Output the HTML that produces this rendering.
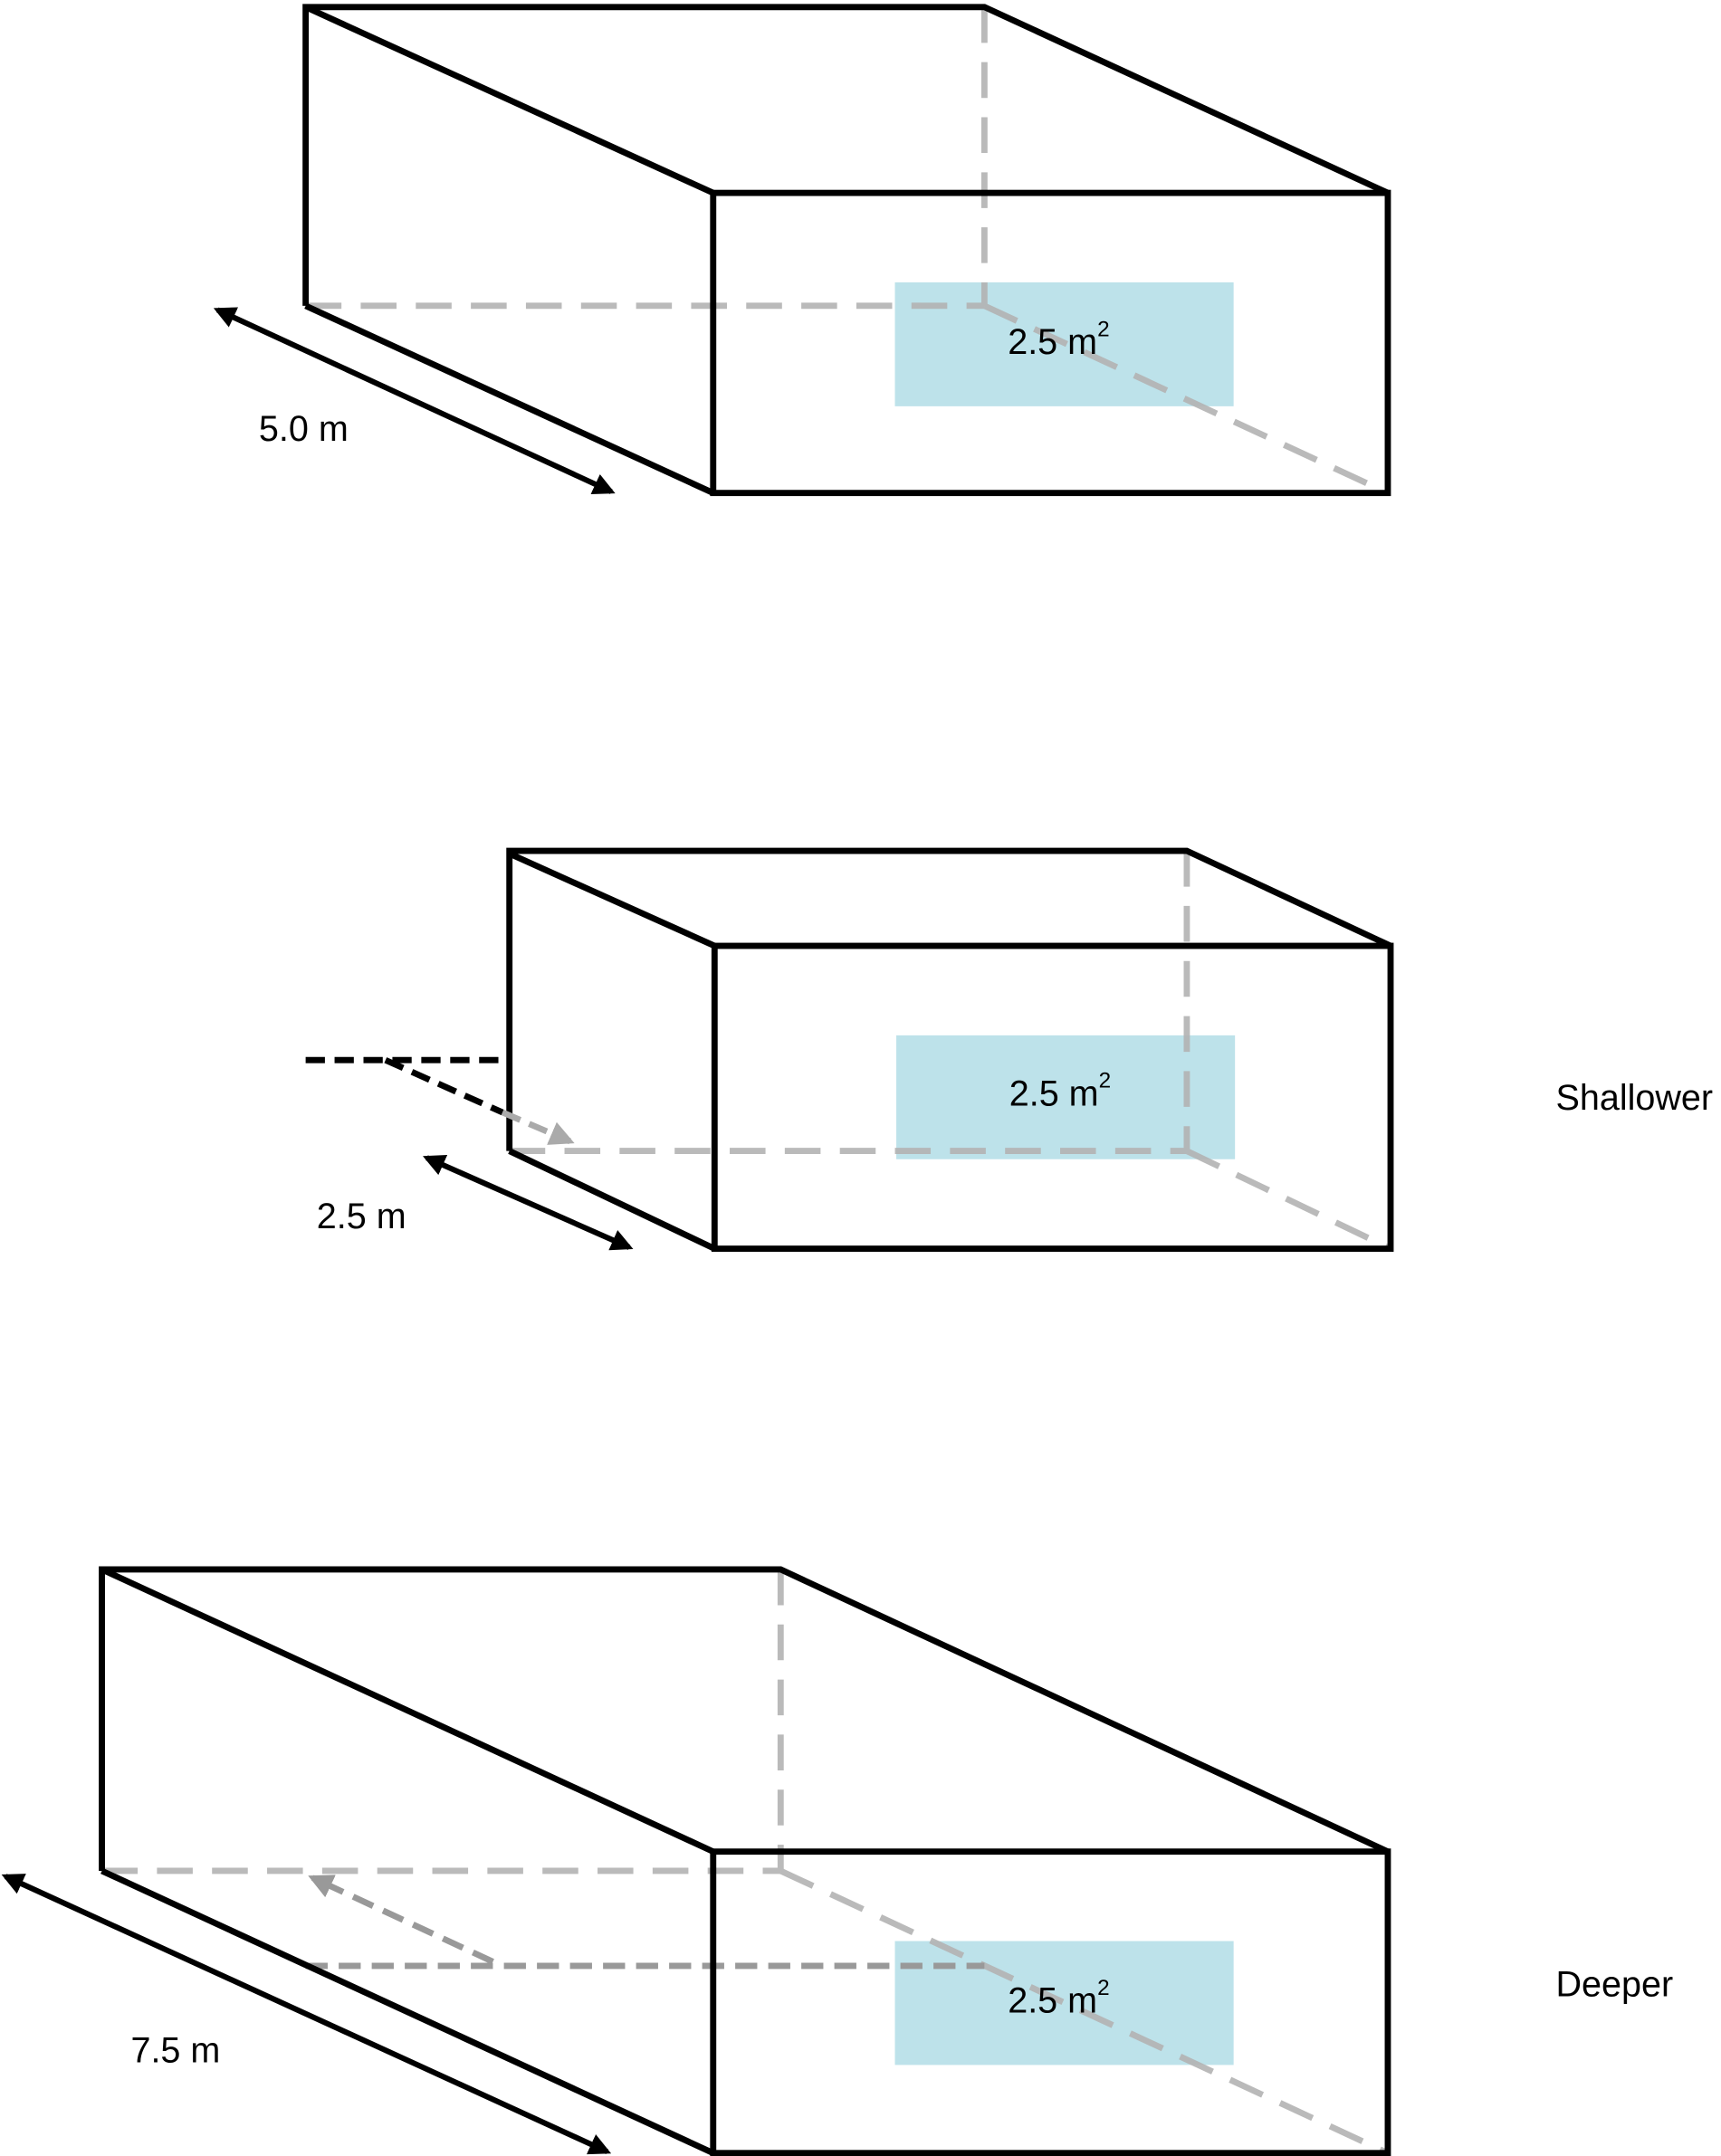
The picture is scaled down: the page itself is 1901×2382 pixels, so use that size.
<!DOCTYPE html>
<html><head><meta charset="utf-8"><style>html,body{margin:0;padding:0;background:#fff}svg{display:block}</style></head>
<body>
<svg width="1901" height="2382" viewBox="0 0 1250 1566" xmlns="http://www.w3.org/2000/svg" font-family="Liberation Sans, sans-serif">
<defs>
<marker id="ab" viewBox="0 0 10 10" refX="8" refY="5" markerWidth="4" markerHeight="4" orient="auto-start-reverse"><path d="M0,0L10,5L0,10z" fill="#000"/></marker>
<marker id="ag" viewBox="0 0 10 10" refX="8" refY="5" markerWidth="4" markerHeight="4" orient="auto-start-reverse"><path d="M0,0L10,5L0,10z" fill="#999"/></marker>
<marker id="ag2" viewBox="0 0 10 10" refX="8" refY="5" markerWidth="4" markerHeight="4" orient="auto-start-reverse"><path d="M0,0L10,5L0,10z" fill="#aaa"/></marker>
</defs>
<g stroke-width="4.5" fill="none">
<!-- Box 1 -->
<rect x="650" y="205" width="246" height="90" fill="#bde2ea" stroke="none"/>
<g stroke="#b3b3b3" stroke-dasharray="26,14" opacity="0.9">
<line x1="715" y1="5" x2="715" y2="222"/><line x1="222" y1="222" x2="715" y2="222"/><line x1="715" y1="222" x2="1008" y2="358"/>
</g>
<g stroke="#000" stroke-linejoin="miter">
<polyline points="222,222 222,5 715,5 1008,140"/>
<line x1="222" y1="5" x2="518" y2="140"/>
<rect x="518" y="140" width="490" height="218"/>
<line x1="222" y1="222" x2="518" y2="358"/>
<line x1="158" y1="225" x2="444" y2="357" marker-start="url(#ab)" marker-end="url(#ab)" stroke-width="4"/>
</g>
<!-- Box 2 -->
<rect x="651" y="752" width="246" height="90" fill="#bde2ea" stroke="none"/>
<g stroke="#b3b3b3" stroke-dasharray="26,14" opacity="0.9">
<line x1="862" y1="618" x2="862" y2="836"/><line x1="370" y1="836" x2="862" y2="836"/><line x1="862" y1="836" x2="1010" y2="907"/>
</g>
<g stroke="#000">
<polyline points="370,836 370,618 862,618 1010,687"/>
<line x1="370" y1="620" x2="519" y2="687"/>
<rect x="519" y="687" width="491" height="220"/>
<line x1="370" y1="836" x2="519" y2="907"/>
<line x1="222" y1="770" x2="370" y2="770" stroke-dasharray="14,7"/>
<line x1="280" y1="770" x2="365" y2="808" stroke-dasharray="14,7"/>
<line x1="365" y1="808" x2="414" y2="829" stroke="#aaa" stroke-dasharray="14,7" marker-end="url(#ag2)"/>
<line x1="310" y1="841" x2="457" y2="906" marker-start="url(#ab)" marker-end="url(#ab)" stroke-width="4"/>
</g>
<!-- Box 3 -->
<rect x="650" y="1410" width="246" height="90" fill="#bde2ea" stroke="none"/>
<g stroke="#b3b3b3" stroke-dasharray="26,14" opacity="0.9">
<line x1="567" y1="1140" x2="567" y2="1359"/><line x1="74" y1="1359" x2="567" y2="1359"/><line x1="567" y1="1359" x2="1008" y2="1564"/>
</g>
<g stroke="#999" stroke-dasharray="16,8">
<line x1="222" y1="1428" x2="715" y2="1428"/>
<line x1="358" y1="1425" x2="227" y2="1364" marker-end="url(#ag)"/>
</g>
<g stroke="#000">
<polyline points="74,1359 74,1140 567,1140 1008,1345"/>
<line x1="74" y1="1140" x2="518" y2="1345"/>
<rect x="518" y="1345" width="490" height="219"/>
<line x1="74" y1="1359" x2="518" y2="1564"/>
<line x1="4" y1="1363" x2="441" y2="1563" marker-start="url(#ab)" marker-end="url(#ab)" stroke-width="4"/>
</g>
</g>
<g font-size="26" fill="#000">
<text x="732" y="257">2.5 m<tspan dy="-13" font-size="16">2</tspan></text>
<text x="188" y="320">5.0 m</text>
<text x="733" y="803">2.5 m<tspan dy="-13" font-size="16">2</tspan></text>
<text x="230" y="892">2.5 m</text>
<text x="1130" y="806">Shallower</text>
<text x="732" y="1462">2.5 m<tspan dy="-13" font-size="16">2</tspan></text>
<text x="95" y="1498">7.5 m</text>
<text x="1130" y="1450">Deeper</text>
</g>
</svg>
</body></html>
